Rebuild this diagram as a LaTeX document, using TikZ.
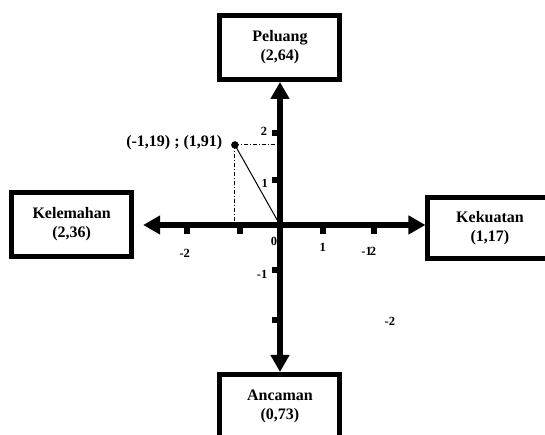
\documentclass[tikz,border=0pt]{standalone}
\usepackage{fontspec}
\setmainfont{Liberation Serif}
\usetikzlibrary{arrows.meta}
\tikzset{
  swotbox/.style={draw, line width=5pt, minimum width=120pt, minimum height=64pt, align=center, font=\fontsize{16}{19}\selectfont\bfseries},
  axisline/.style={line width=6pt, {Triangle[length=17pt,width=18pt]}-{Triangle[length=17pt,width=18pt]}},
  tickmark/.style={line width=6pt},
  ticklabel/.style={inner sep=0pt, font=\fontsize{12.5}{14}\selectfont\bfseries},
  guideline/.style={line width=0.9pt, dash pattern=on 4pt off 2pt on 1pt off 2pt},
}
\begin{document}
\begin{tikzpicture}[x=46pt,y=46pt]
    \useasboundingbox (-6.087,-4.565) rectangle (5.761,4.891);
    \coordinate (O) at (0,0);

    % Draw the boxes
    \node[swotbox] (peluang) at (0,3.86) {Peluang\\(2,64)};
    \node[swotbox] (kelemahan) at (-4.53,0.01) {Kelemahan\\(2,36)};
    \node[swotbox, minimum width=124pt, minimum height=61pt] (kekuatan) at (4.565,-0.065) {Kekuatan\\(1,17)};
    \node[swotbox] (ancaman) at (0,-3.946) {Ancaman\\(0,73)};

    % Mark the point
    \coordinate (P) at (-0.98,1.74);
    \draw[guideline] (P) -- (P -| O);
    \draw[guideline] (P) -- (P |- O);
    \draw[line width=1pt] (P) -- (O);
    \filldraw[black] (P) circle (3.5pt);
    \node[ticklabel, font=\fontsize{16}{18}\selectfont\bfseries, anchor=east] (ptlabel) at (-1.25,1.78) {(-1,19) ; (1,91)};

    % Draw axes
    \draw[axisline, shorten <=9pt] (kelemahan.east |- O) -- (kekuatan.west |- O);
    \draw[axisline] (peluang.south) -- (ancaman.north);

    % Ticks on the axes
    \draw[tickmark] (-2.02,0) -- (-2.02,-0.2);
    \draw[tickmark] (-0.87,0) -- (-0.87,-0.2);
    \draw[tickmark] (0.93,0) -- (0.93,-0.2);
    \draw[tickmark] (2.04,0) -- (2.04,-0.2);
    \draw[tickmark] (0,2) -- (-0.18,2);
    \draw[tickmark] (0,0.98) -- (-0.18,0.98);
    \draw[tickmark] (0,-0.98) -- (-0.18,-0.98);
    \draw[tickmark] (0,-2.07) -- (-0.18,-2.07);

    % Tick labels
    \node[ticklabel] (ly2) at (-0.35,2.04) {2};
    \node[ticklabel] (ly1) at (-0.33,0.91) {1};
    \node[ticklabel] (l0) at (-0.13,-0.35) {0};
    \node[ticklabel] (lym1) at (-0.39,-1.07) {-1};
    \node[ticklabel] (lxm2) at (-2.07,-0.61) {-2};
    \node[ticklabel] (lx1) at (0.93,-0.48) {1};
    \node[ticklabel] (lx2) at (1.93,-0.57) {-1\kern-2pt2};
    \node[ticklabel] (lym2) at (2.39,-2.09) {-2};
\end{tikzpicture}
\end{document}
